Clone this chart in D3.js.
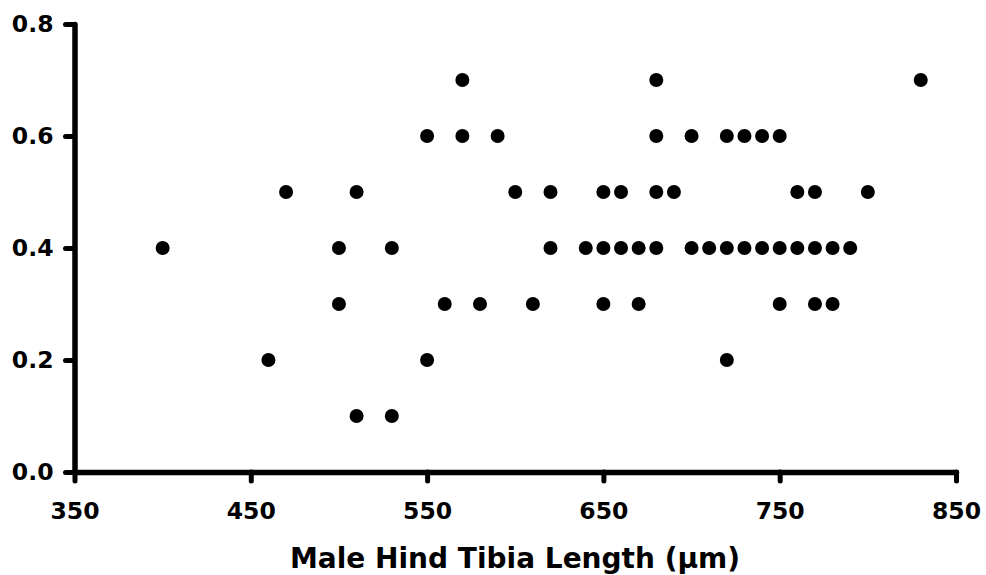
<!DOCTYPE html>
<html>
<head>
<meta charset="utf-8">
<script src="https://cdn.jsdelivr.net/npm/d3@7"></script>
<style>
  html, body { margin: 0; padding: 0; background: #fff; }
  svg text { font-family: "DejaVu Sans", Verdana, sans-serif; font-weight: bold; fill: #000; }
</style>
</head>
<body>
<script>
(function() {
  'use strict';

  // tibia length (µm) and value, one row per dot
  const tibiaLength = [
    570, 680, 830,
    550, 570, 590, 680, 700, 720, 730, 740, 750,
    470, 510, 600, 620, 650, 660, 680, 690, 760, 770, 800,
    400, 500, 530, 620, 640, 650, 660, 670, 680, 700, 710, 720, 730, 740, 750, 760, 770, 780, 790,
    500, 560, 580, 610, 650, 670, 750, 770, 780,
    460, 550, 720,
    510, 530
  ];
  const yValue = [
    0.7, 0.7, 0.7,
    0.6, 0.6, 0.6, 0.6, 0.6, 0.6, 0.6, 0.6, 0.6,
    0.5, 0.5, 0.5, 0.5, 0.5, 0.5, 0.5, 0.5, 0.5, 0.5, 0.5,
    0.4, 0.4, 0.4, 0.4, 0.4, 0.4, 0.4, 0.4, 0.4, 0.4, 0.4, 0.4, 0.4, 0.4, 0.4, 0.4, 0.4, 0.4, 0.4,
    0.3, 0.3, 0.3, 0.3, 0.3, 0.3, 0.3, 0.3, 0.3,
    0.2, 0.2, 0.2,
    0.1, 0.1
  ];
  const xTicks = [350, 450, 550, 650, 750, 850];
  const yTicks = [0.0, 0.2, 0.4, 0.6, 0.8];
  const xTitle = 'Male Hind Tibia Length (µm)';

  const w = 986;
  const h = 575;

  const xScale = d3.scaleLinear().domain([350, 850]).range([74.5, 956]);
  const yScale = d3.scaleLinear().domain([0, 0.8]).range([472, 24]);

  const svg = d3.select('body')
    .append('svg')
    .attr('width', w)
    .attr('height', h);

  // dots
  svg.append('g')
    .selectAll('circle')
    .data(tibiaLength.map((d, i) => [d, yValue[i]]))
    .join('circle')
    .attr('cx', (d) => xScale(d[0]))
    .attr('cy', (d) => yScale(d[1]))
    .attr('r', 7)
    .attr('fill', '#000');

  // axes
  const xAxis = d3.axisBottom(xScale)
    .tickValues(xTicks)
    .tickSize(9)
    .tickSizeOuter(0)
    .tickPadding(21)
    .tickFormat(d3.format('d'));
  const gx = svg.append('g')
    .attr('transform', 'translate(0,' + yScale(0) + ')')
    .call(xAxis);

  const yAxis = d3.axisLeft(yScale)
    .tickValues(yTicks)
    .tickSize(9)
    .tickSizeOuter(0)
    .tickPadding(12)
    .tickFormat(d3.format('.1f'));
  const gy = svg.append('g')
    .attr('transform', 'translate(' + xScale(350) + ',0)')
    .call(yAxis);

  [gx, gy].forEach((g) => {
    g.select('.domain')
      .attr('stroke', '#000')
      .attr('stroke-width', 5.5)
      .attr('stroke-linecap', 'round');
    g.selectAll('.tick line')
      .attr('stroke', '#000')
      .attr('stroke-width', 5)
      .attr('stroke-linecap', 'round');
    g.selectAll('.tick text')
      .style('font-size', '23.5px');
  });

  // axis title
  svg.append('text')
    .attr('x', 515)
    .attr('y', 568)
    .attr('text-anchor', 'middle')
    .style('font-size', '28px')
    .text(xTitle);
}());
</script>
</body>
</html>
